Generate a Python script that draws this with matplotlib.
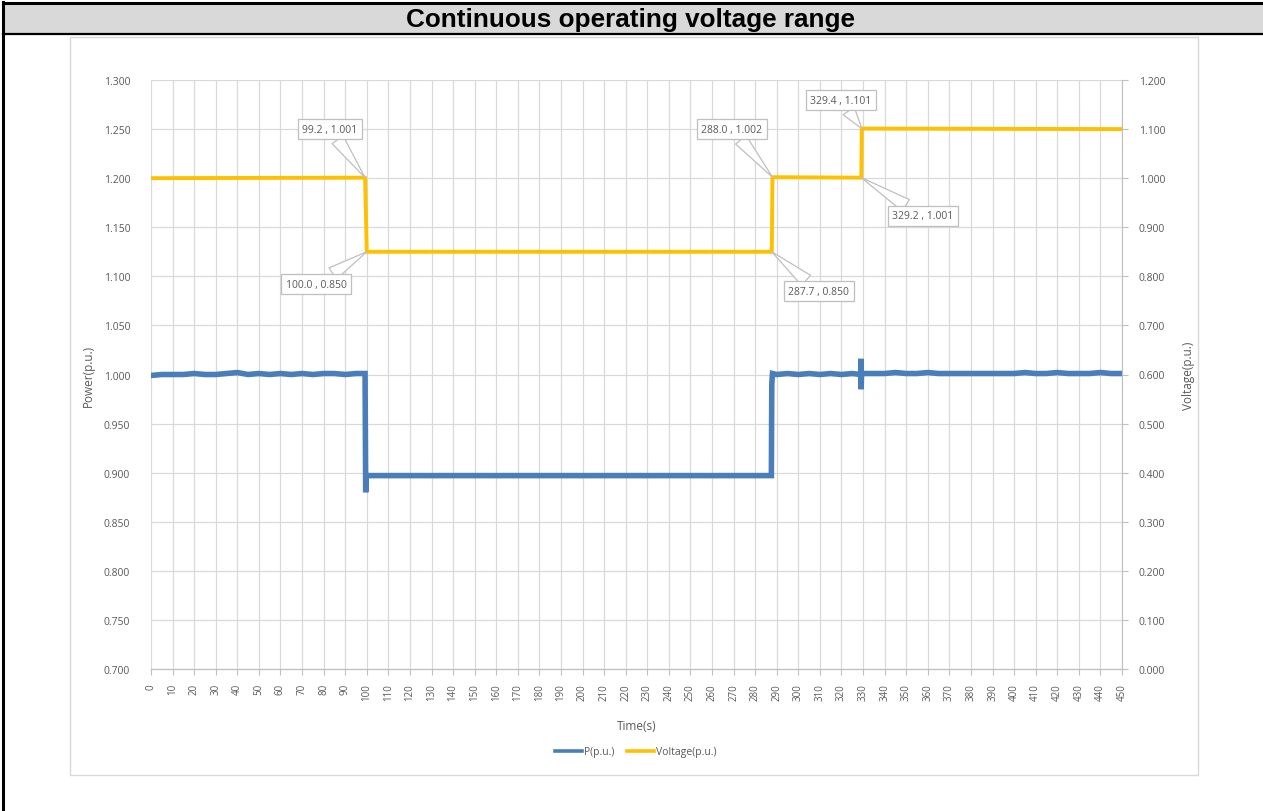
import matplotlib
matplotlib.use("Agg")
import matplotlib.pyplot as plt
from matplotlib.patches import Rectangle
from matplotlib.lines import Line2D

# Voltage(p.u.) step record
volt_t = [0.0, 99.2, 100.0, 287.7, 288.0, 329.2, 329.4, 450.0]
volt_v = [1.000, 1.001, 0.850, 0.850, 1.002, 1.001, 1.101, 1.100]

# P(p.u.) (about every 5 s, plus the transients)
p_t = [0, 5, 10, 15, 20, 25, 30, 35, 40, 45, 50, 55, 60, 65, 70, 75, 80, 85, 90, 95, 99.2,
       99.5, 99.8,
       100, 105, 110, 115, 120, 125, 130, 135, 140, 145, 150, 155, 160, 165, 170, 175, 180,
       185, 190, 195, 200, 205, 210, 215, 220, 225, 230, 235, 240, 245, 250, 255, 260, 265,
       270, 275, 280, 285, 287.5,
       287.7, 288.0, 290, 295, 300, 305, 310, 315, 320, 325, 328.9, 329.0, 329.1, 329.3,
       330, 335, 340, 345, 350, 355, 360, 365, 370, 375, 380, 385, 390, 395, 400, 405,
       410, 415, 420, 425, 430, 435, 440, 445, 450]
p_v = [0.999, 1.000, 1.000, 1.000, 1.001, 1.000, 1.000, 1.001, 1.002, 1.000, 1.001, 1.000,
       1.001, 1.000, 1.001, 1.000, 1.001, 1.001, 1.000, 1.001, 1.001,
       0.880, 0.897,
       0.897, 0.897, 0.897, 0.897, 0.897, 0.897, 0.897, 0.897, 0.897, 0.897, 0.897, 0.897,
       0.897, 0.897, 0.897, 0.897, 0.897, 0.897, 0.897, 0.897, 0.897, 0.897, 0.897, 0.897,
       0.897, 0.897, 0.897, 0.897, 0.897, 0.897, 0.897, 0.897, 0.897, 0.897, 0.897, 0.897,
       0.897, 0.897, 0.897,
       0.990, 1.001, 1.000, 1.001, 1.000, 1.001, 1.000, 1.001, 1.000, 1.001, 1.000, 1.016,
       0.985, 1.001,
       1.001, 1.001, 1.001, 1.002, 1.001, 1.001, 1.002, 1.001, 1.001, 1.001, 1.001, 1.001,
       1.001, 1.001, 1.001, 1.002, 1.001, 1.001, 1.002, 1.001, 1.001, 1.001, 1.002, 1.001,
       1.001]

# labelled points: (t, v, text, box centre t, box centre v)
labels = [
    (99.2, 1.001, "99.2 , 1.001", 82.9, 1.100),
    (100.0, 0.850, "100.0 , 0.850", 76.5, 0.784),
    (288.0, 1.002, "288.0 , 1.002", 269.2, 1.100),
    (287.7, 0.850, "287.7 , 0.850", 309.5, 0.770),
    (329.4, 1.101, "329.4 , 1.101", 319.7, 1.159),
    (329.2, 1.001, "329.2 , 1.001", 357.7, 0.923),
]

x_ticks = list(range(0, 451, 10))
p_ticks = [0.70, 0.75, 0.80, 0.85, 0.90, 0.95, 1.00, 1.05, 1.10, 1.15, 1.20, 1.25, 1.30]
v_ticks = [0.0, 0.1, 0.2, 0.3, 0.4, 0.5, 0.6, 0.7, 0.8, 0.9, 1.0, 1.1, 1.2]

W, H = 1263, 812
GREY_TXT = "#595959"
GRID = "#d9d9d9"
BLUE = "#4a7ebb"
GOLD = "#ffc000"
plt.rcParams["font.family"] = ["Open Sans", "DejaVu Sans"]

fig = plt.figure(figsize=(W / 100, H / 100), dpi=100)


def fx(px):
    return px / W


def fy(py):
    return 1 - py / H


# header row of the table
fig.patches.append(Rectangle((fx(3), fy(34)), fx(1263 - 3), fy(4) - fy(34),
                             transform=fig.transFigure, facecolor="#d9d9d9",
                             edgecolor="none", zorder=-1))
fig.lines.append(Line2D([fx(3), 1], [fy(4), fy(4)], transform=fig.transFigure,
                        color="black", lw=2.2))
fig.lines.append(Line2D([fx(3), 1], [fy(34.5), fy(34.5)], transform=fig.transFigure,
                        color="black", lw=1.6))
fig.lines.append(Line2D([fx(3), fx(3)], [fy(3), 0], transform=fig.transFigure,
                        color="black", lw=2.2))
fig.text(fx(630), fy(20), "Continuous operating voltage range", ha="center", va="center",
         fontsize=18.8, fontweight="bold", family="Liberation Sans")

# chart area frame
fig.patches.append(Rectangle((fx(70), fy(776)), fx(1198 - 70), fy(38) - fy(776),
                             transform=fig.transFigure, facecolor="none",
                             edgecolor=GRID, lw=1.0, zorder=-1))

ax = fig.add_axes([fx(151), fy(670), fx(1122 - 151), fy(81) - fy(670)])
ax.set_facecolor("none")
ax2 = ax.twinx()

ax.plot(p_t, p_v, color=BLUE, lw=4.0, solid_joinstyle="miter", zorder=3)
ax2.plot(volt_t, volt_v, color=GOLD, lw=2.8, zorder=3)

ax.set_xlim(0, 450)
ax.set_ylim(0.7, 1.3)
ax2.set_ylim(0.0, 1.2)
ax.set_xticks(x_ticks)
ax.set_xticklabels([str(v) for v in x_ticks], rotation=90, fontsize=7, color=GREY_TXT)
ax.set_yticks(p_ticks)
ax.set_yticklabels([f"{v:.3f}" for v in p_ticks], fontsize=7.5, color=GREY_TXT)
ax2.set_yticks(v_ticks)
ax2.set_yticklabels([f"{v:.3f}" for v in v_ticks], fontsize=7.5, color=GREY_TXT)

ax.grid(True, color=GRID, lw=0.9)
ax.set_axisbelow(True)
ax.tick_params(axis="x", length=4, color="#bfbfbf", pad=6)
ax.tick_params(axis="y", length=0, pad=15)
ax2.tick_params(axis="y", length=4, color="#bfbfbf", pad=8)
for a in (ax, ax2):
    for s in ("top", "left"):
        a.spines[s].set_visible(False)
    a.spines["bottom"].set_color("#bfbfbf")
    a.spines["right"].set_color("#bfbfbf")
ax.spines["right"].set_visible(False)

ax.set_xlabel("Time(s)", fontsize=8.5, color=GREY_TXT, labelpad=14)
ax.set_ylabel("Power(p.u.)", fontsize=8.5, color=GREY_TXT, labelpad=6)
ax2.set_ylabel("Voltage(p.u.)", fontsize=8.5, color=GREY_TXT, labelpad=12)

for t, v, txt, bt, bv in labels:
    ax2.annotate(txt, xy=(t, v), xytext=(bt, bv), ha="center", va="center",
                 fontsize=7.5, color=GREY_TXT, zorder=6,
                 bbox=dict(boxstyle="square,pad=0.45", fc="white", ec="#bfbfbf", lw=0.9),
                 arrowprops=dict(arrowstyle="wedge,tail_width=1.3,shrink_factor=0.5",
                                 fc="white", ec="#bfbfbf", lw=0.9, shrinkA=0, shrinkB=0))

handles = [Line2D([], [], color=BLUE, lw=2.6), Line2D([], [], color=GOLD, lw=2.6)]
fig.legend(handles, ["P(p.u.)", "Voltage(p.u.)"], loc="center", ncol=2,
           bbox_to_anchor=(fx(636), fy(753)), frameon=False, fontsize=7.5,
           labelcolor=GREY_TXT, handlelength=2.6, handletextpad=0.2, columnspacing=1.2)

fig.savefig("out.png", dpi=100)
